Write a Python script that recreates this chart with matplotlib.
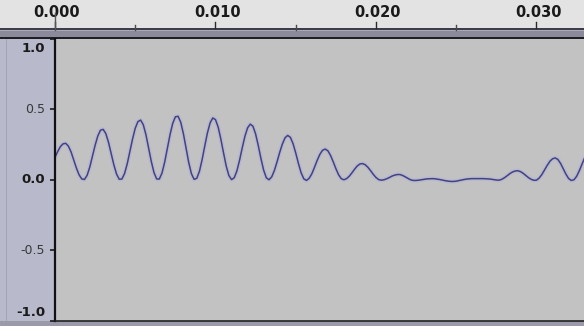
import numpy as np
import matplotlib
matplotlib.use("Agg")
import matplotlib.pyplot as plt
from matplotlib.patches import Rectangle

# waveform samples (6000 samples per second)
rate = 6000
amplitude = [
    0.160, 0.200, 0.235, 0.255, 0.259, 0.239, 0.198, 0.141, 0.083, 0.035,
    0.006, 0.002, 0.031, 0.090, 0.167, 0.245, 0.311, 0.352, 0.358, 0.328,
    0.266, 0.187, 0.106, 0.041, 0.004, 0.005, 0.044, 0.113, 0.201, 0.290,
    0.366, 0.413, 0.424, 0.391, 0.320, 0.226, 0.130, 0.051, 0.006, 0.005,
    0.048, 0.125, 0.222, 0.320, 0.400, 0.447, 0.451, 0.409, 0.327, 0.225,
    0.122, 0.043, 0.003, 0.010, 0.060, 0.143, 0.241, 0.334, 0.405, 0.439,
    0.427, 0.374, 0.289, 0.191, 0.098, 0.030, 0.001, 0.014, 0.063, 0.139,
    0.227, 0.309, 0.369, 0.395, 0.380, 0.325, 0.242, 0.150, 0.068, 0.014,
    0.000, 0.020, 0.065, 0.127, 0.194, 0.254, 0.298, 0.315, 0.301, 0.256,
    0.190, 0.116, 0.050, 0.007, -0.005, 0.010, 0.042, 0.088, 0.137, 0.180,
    0.209, 0.218, 0.206, 0.173, 0.128, 0.079, 0.036, 0.008, 0.000, 0.008,
    0.025, 0.049, 0.075, 0.098, 0.112, 0.115, 0.106, 0.088, 0.064, 0.038,
    0.016, 0.001, -0.003, 0.000, 0.007, 0.016, 0.026, 0.033, 0.037, 0.037,
    0.030, 0.020, 0.009, -0.001, -0.005, -0.005, -0.003, 0.000, 0.003, 0.006,
    0.007, 0.008, 0.007, 0.004, 0.001, -0.003, -0.007, -0.010, -0.012, -0.012,
    -0.010, -0.006, -0.002, 0.002, 0.005, 0.007, 0.008, 0.008, 0.008, 0.008,
    0.008, 0.007, 0.006, 0.004, 0.001, -0.002, -0.003, 0.003, 0.014, 0.028,
    0.043, 0.055, 0.062, 0.064, 0.058, 0.046, 0.031, 0.015, 0.003, -0.004,
    -0.003, 0.012, 0.037, 0.069, 0.102, 0.131, 0.149, 0.155, 0.144, 0.116,
    0.078, 0.040, 0.009, -0.005, 0.000, 0.024, 0.064, 0.110, 0.156,
]

ruler_ticks = [0.0, 0.01, 0.02, 0.03]
ruler_labels = ["0.000", "0.010", "0.020", "0.030"]
ruler_minor = [0.005, 0.015, 0.025]
level_ticks = [1.0, 0.5, 0.0, -0.5, -1.0]
level_labels = ["1.0", "0.5", "0.0", "-0.5", "-1.0"]
level_bold = [True, False, True, False, True]

t_end = 0.03296

W, H = 584, 326
fig = plt.figure(figsize=(W / 100, H / 100), dpi=100, facecolor="#e3e3e3")


def box(x0, y0, x1, y1, color, z=0):
    # rectangle in picture pixels (y from the top)
    fig.add_artist(Rectangle((x0 / W, 1 - y1 / H), (x1 - x0) / W, (y1 - y0) / H,
                             transform=fig.transFigure, facecolor=color,
                             edgecolor="none", zorder=z))


# ruler band and frame
box(0, 28, W, 30, "#3c3c4a")
box(0, 30, W, 31.5, "#a8a8b6")
box(0, 31.5, W, 37.2, "#8a8a9a")
box(0, 37.2, W, 39, "#1e1e26")
# left label panel and bottom strip
box(0, 39, 55, 321, "#b8bacb")
box(6, 39, 7, 321, "#a2a4b4")
box(0, 321, W, H, "#9a9aaa")

# ruler axis
ax_r = fig.add_axes([55 / W, 1 - 28 / H, (W - 55) / W, 28 / H])
ax_r.set_xlim(0, t_end)
ax_r.set_ylim(0, 1)
ax_r.axis("off")
for x in ruler_ticks:
    ax_r.plot([x, x], [0.0, 0.2], color="#2a2a2a", lw=1, clip_on=False)
for x in ruler_minor:
    ax_r.plot([x, x], [-0.08, 0.1], color="#4a4a4a", lw=1, clip_on=False)
for x, lab in zip(ruler_ticks, ruler_labels):
    ax_r.annotate(lab, xy=(x, 0.55), xytext=(2, 0), textcoords="offset pixels",
                  ha="center", va="center", fontsize=10.5, fontweight="bold",
                  color="#1a1a1a")
ax_r.plot([0, 0], [-0.08, 0.55], color="#555555", lw=1, clip_on=False, zorder=5)

# waveform track
ax = fig.add_axes([55 / W, 1 - 320.5 / H, (W - 55) / W, (320.5 - 39) / H])
ax.set_facecolor("#c2c2c2")
t = np.arange(len(amplitude)) / rate
ax.plot(t, amplitude, color="#b2b2d6", lw=3.2, alpha=0.6, solid_capstyle="round")
ax.plot(t, amplitude, color="#424282", lw=1.1)
ax.set_xlim(0, t_end)
ax.set_ylim(-1, 1)
ax.set_xticks([])
ax.set_yticks(level_ticks)
ax.tick_params(axis="y", direction="out", length=3.5, width=1.2, color="#1a1a1a",
               labelleft=False)
for s in ["top", "right"]:
    ax.spines[s].set_visible(False)
ax.spines["left"].set_linewidth(1.6)
ax.spines["bottom"].set_linewidth(1.2)
ax.spines["left"].set_color("#111111")
ax.spines["bottom"].set_color("#222222")

for val, lab, bold in zip(level_ticks, level_labels, level_bold):
    va = "center"
    dy = 0
    if val == 1.0:
        va, dy = "top", -3
    elif val == -1.0:
        va, dy = "bottom", 2
    ax.annotate(lab, xy=(0, val), xycoords=("axes fraction", "data"),
                xytext=(-10, dy), textcoords="offset pixels", ha="right", va=va,
                fontsize=9.5 if bold else 9, fontweight="bold" if bold else "normal",
                color="#1a1a1a" if bold else "#383838", annotation_clip=False)

fig.savefig("out.png", dpi=100, facecolor=fig.get_facecolor())
